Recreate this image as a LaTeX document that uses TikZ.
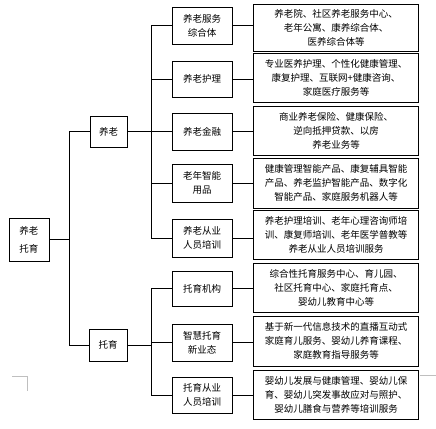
\documentclass[tikz,border=0pt]{standalone}
\usepackage{fontspec}
\newfontfamily\cjk{Noto Sans CJK SC}
\begin{document}
\begin{tikzpicture}[x=1pt,y=-1pt,
  box/.style={draw, line width=0.8pt, inner sep=0pt, align=center,
    font=\cjk\fontsize{9.5}{14}\selectfont},
  lvtwo/.style={box, minimum width=60pt},
  lvthree/.style={box, minimum width=165.5pt},
  conn/.style={line width=0.8pt},
  cornermark/.style={line width=0.6pt, draw=black!25}]
\useasboundingbox (0,0) rectangle (436,428);
% page corner marks
\draw[cornermark] (12,376) -- (27,376) -- (27,391);
\draw[cornermark] (419.5,375) -- (436,375);
% root and level 1
\node[box, minimum width=40pt, minimum height=43pt] (root) at (29,239.5) {养老\\[4pt]托育};
\node[box, minimum width=37pt, minimum height=31pt] (yl) at (108.5,131.5) {养老};
\node[box, minimum width=38pt, minimum height=32pt] (ty) at (108,345) {托育};
% level 2
\node[lvtwo, minimum height=37pt] (b1) at (202,25.5) {养老服务\\综合体};
\node[lvtwo, minimum height=36pt] (b2) at (202,79) {养老护理};
\node[lvtwo, minimum height=37pt] (b3) at (202,131.5) {养老金融};
\node[lvtwo, minimum height=38pt] (b4) at (202,183) {老年智能\\用品};
\node[lvtwo, minimum height=38pt] (b5) at (202,238) {养老从业\\人员培训};
\node[lvtwo, minimum height=35pt] (b6) at (202,288.5) {托育机构};
\node[lvtwo, minimum height=37pt] (b7) at (202,342.5) {智慧托育\\新业态};
\node[lvtwo, minimum height=36pt] (b8) at (202,395) {托育从业\\人员培训};
% level 3
\node[lvthree, minimum height=47pt] (c1) at (336,27.5) {养老院、社区养老服务中心、\\老年公寓、康养综合体、\\医养综合体等};
\node[lvthree, minimum height=49pt] (c2) at (336,77.5) {专业医养护理、个性化健康管理、\\康复护理、互联网+健康咨询、\\家庭医疗服务等};
\node[lvthree, minimum height=49pt] (c3) at (336,130.5) {商业养老保险、健康保险、\\逆向抵押贷款、以房\\养老业务等};
\node[lvthree, minimum height=50pt] (c4) at (336,183) {健康管理智能产品、康复辅具智能\\产品、养老监护智能产品、数字化\\智能产品、家庭服务机器人等};
\node[lvthree, minimum height=49pt] (c5) at (336,234.5) {养老护理培训、老年心理咨询师培\\训、康复师培训、老年医学普教等\\养老从业人员培训服务};
\node[lvthree, minimum height=49pt] (c6) at (336,287.5) {综合性托育服务中心、育儿园、\\社区托育中心、家庭托育点、\\婴幼儿教育中心等};
\node[lvthree, minimum height=50pt] (c7) at (336,341) {基于新一代信息技术的直播互动式\\家庭育儿服务、婴幼儿养育课程、\\家庭教育指导服务等};
\node[lvthree, minimum height=49pt] (c8) at (336,394.5) {婴幼儿发展与健康管理、婴幼儿保\\育、婴幼儿突发事故应对与照护、\\婴幼儿膳食与营养等培训服务};
% bus coordinates
\coordinate (jr) at (69,0);
\coordinate (ja) at (151,0);
% root connectors
\draw[conn] (root.east) -- (root.east -| jr);
\draw[conn] (yl.west -| jr) -- (ty.west -| jr);
\draw[conn] (yl.west) -- (yl.west -| jr);
\draw[conn] (ty.west) -- (ty.west -| jr);
% 养老 bus
\draw[conn] (b1.west -| ja) -- (b5.west -| ja);
\draw[conn] (yl.east) -- (yl.east -| ja);
\foreach \b in {b1,b2,b3,b4,b5} {\draw[conn] (\b.west) -- (\b.west -| ja);}
% 托育 bus
\draw[conn] (b6.west -| ja) -- (b8.west -| ja);
\draw[conn] (ty.east) -- (ty.east -| ja);
\foreach \b in {b6,b7,b8} {\draw[conn] (\b.west) -- (\b.west -| ja);}
% level 2 to level 3
\foreach \i in {1,...,8} {\draw[conn] (b\i.east) -- (b\i.east -| c\i.west);}
\end{tikzpicture}
\end{document}
